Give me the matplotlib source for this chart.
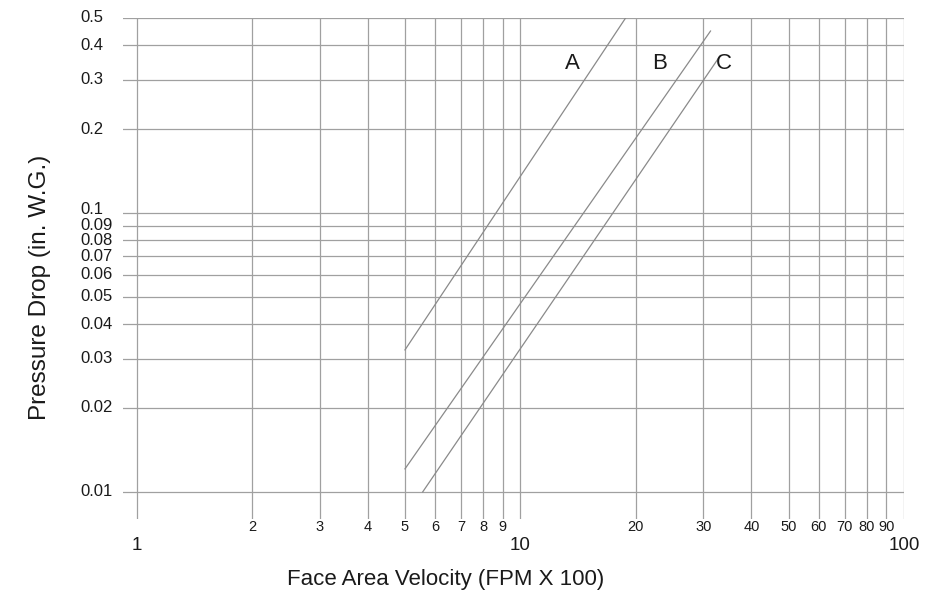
import numpy as np
import matplotlib
matplotlib.use('Agg')
import matplotlib.pyplot as plt
import matplotlib.transforms as mtransforms
from matplotlib.ticker import FixedLocator, NullFormatter

plt.rcParams['font.family'] = ['Liberation Sans', 'DejaVu Sans']

# grid values
x_major = [1, 10, 100]
x_minor = [2, 3, 4, 5, 6, 7, 8, 9, 20, 30, 40, 50, 60, 70, 80, 90]
y_ticks = [0.01, 0.02, 0.03, 0.04, 0.05, 0.06, 0.07, 0.08, 0.09, 0.1, 0.2, 0.3, 0.4, 0.5]
y_labels = ['0.01', '0.02', '0.03', '0.04', '0.05', '0.06', '0.07', '0.08', '0.09',
            '0.1', '0.2', '0.3', '0.4', '0.5']

# curves (end points, straight on log-log)
curve_names = ['A', 'B', 'C']
curve_x = [[5.0, 18.8], [5.0, 31.3], [5.56, 33.2]]
curve_y = [[0.0323, 0.5], [0.0121, 0.449], [0.01, 0.367]]
label_x = [13.7, 23.0, 34.0]
label_y = [0.344, 0.344, 0.344]

fig = plt.figure(figsize=(9.38, 6.02), dpi=100)
ax = fig.add_axes([123 / 938, 1 - 519 / 602, (904 - 123) / 938, (519 - 18) / 602])

ax.set_xscale('log')
ax.set_yscale('log')
ax.set_xlim(0.92, 100)
ax.set_ylim(0.008, 0.5)

for xs, ys in zip(curve_x, curve_y):
    ax.plot(xs, ys, color='#8a8a8a', lw=0.9, zorder=3)
for name, lx, ly in zip(curve_names, label_x, label_y):
    ax.text(lx, ly, name, fontsize=16, ha='center', va='center', color='#1a1a1a')

ax.xaxis.set_major_locator(FixedLocator(x_major))
ax.xaxis.set_minor_locator(FixedLocator(x_minor))
ax.set_xticklabels([str(v) for v in x_major])
ax.set_xticklabels([str(v) for v in x_minor], minor=True)
ax.tick_params(axis='x', which='major', length=0, pad=13, labelsize=13.5, labelcolor='#1a1a1a')
ax.tick_params(axis='x', which='minor', length=0, pad=1, labelsize=10.5, labelcolor='#1a1a1a')

ax.yaxis.set_major_locator(FixedLocator(y_ticks))
ax.yaxis.set_minor_formatter(NullFormatter())
ax.yaxis.set_minor_locator(FixedLocator([]))
ax.set_yticklabels([])
ax.tick_params(axis='y', which='major', length=0)

# y labels are left-aligned in the original, 0.1 sits a bit above its line
blend = mtransforms.blended_transform_factory(ax.transAxes, ax.transData)
for v, s in zip(y_ticks, y_labels):
    dy = 3 if v == 0.1 else 0
    tr = mtransforms.offset_copy(blend, fig=fig, x=0, y=dy, units='dots')
    ax.text((80 - 123) / 781, v, s, transform=tr, fontsize=12, ha='left', va='center',
            color='#1a1a1a')

ax.grid(True, which='both', color='#a0a0a0', lw=0.9)
for s in ax.spines.values():
    s.set_visible(False)

fig.text(446 / 938, 1 - 580 / 602, 'Face Area Velocity (FPM X 100)', fontsize=16,
         ha='center', va='center', color='#1a1a1a')
fig.text(40 / 938, 1 - 287 / 602, 'Pressure Drop (in. W.G.)', fontsize=17.5,
         ha='center', va='center', rotation=90, color='#1a1a1a')

fig.savefig('out.png', dpi=100)
